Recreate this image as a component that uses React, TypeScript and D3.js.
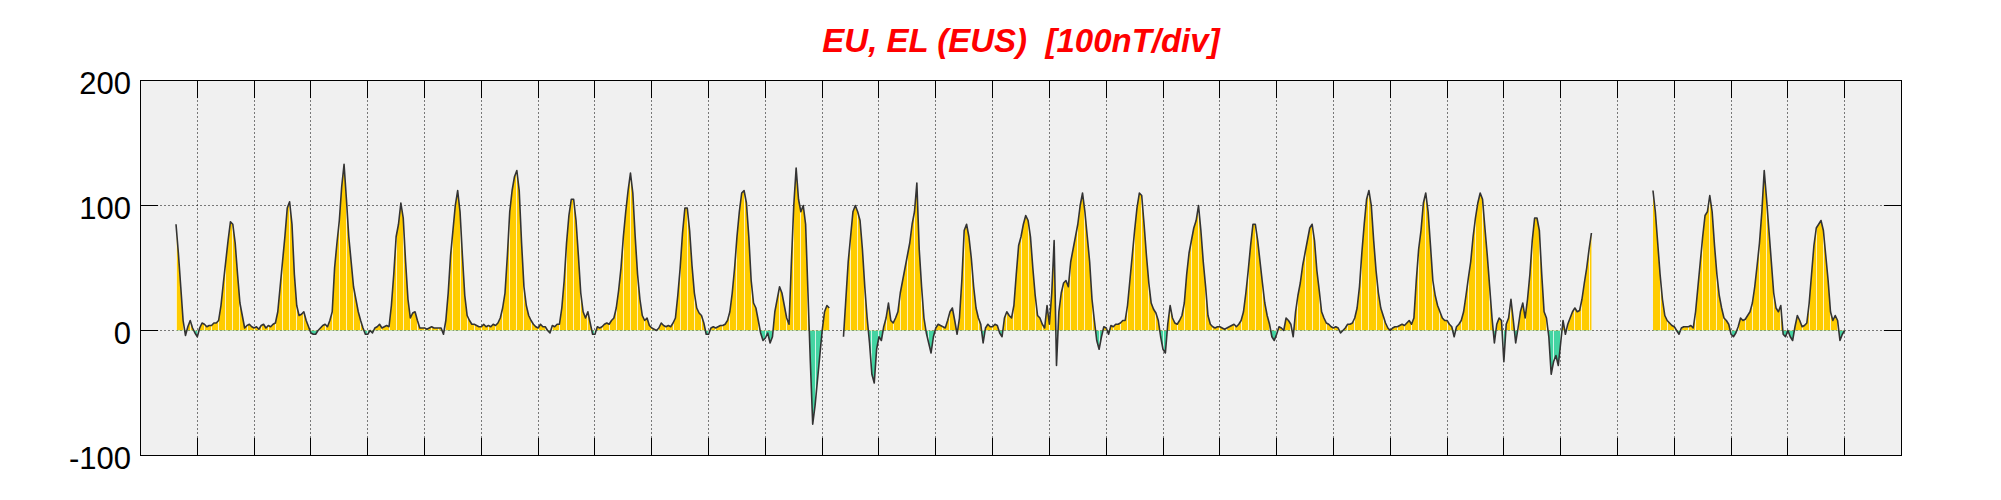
import React, { useEffect, useRef } from 'react';
import * as d3 from 'd3';

type V = number | null;

// hourly EU (above 0) / EL (below 0) trace in nT, one row per day, null = no data
const day01: V[] = [null, null, null, null, null, null, null, null, null, null, null, null, null, null, null, 85, 62, 35, 8, -4, 3, 8, 2, -2];
const day02: V[] = [-5, 2, 6, 5, 3, 4, 4, 6, 6, 8, 20, 38, 55, 72, 87, 85, 70, 45, 22, 12, 2, 4, 5, 3];
const day03: V[] = [2, 3, 1, 4, 5, 2, 4, 3, 5, 6, 15, 35, 55, 75, 98, 103, 85, 45, 20, 12, 13, 15, 8, 3];
const day04: V[] = [-2, -3, -3, 0, 2, 4, 5, 3, 8, 15, 50, 70, 88, 115, 133, 105, 75, 55, 35, 25, 15, 8, 2, -3];
const day05: V[] = [-3, 0, -2, 2, 3, 5, 2, 3, 4, 3, 20, 45, 75, 85, 102, 90, 55, 25, 10, 14, 15, 8, 2, 2];
const day06: V[] = [2, 1, 2, 3, 2, 2, 2, 2, -3, 8, 30, 60, 80, 100, 112, 95, 60, 28, 12, 8, 5, 5, 4, 3];
const day07: V[] = [3, 5, 3, 4, 3, 5, 4, 6, 10, 18, 30, 60, 95, 112, 123, 128, 112, 70, 35, 20, 12, 8, 5, 3];
const day08: V[] = [2, 5, 3, 3, 0, -2, 4, 3, 5, 5, 18, 40, 70, 92, 105, 105, 88, 60, 30, 15, 10, 15, 6, -3];
const day09: V[] = [-3, 3, 2, 3, 5, 6, 5, 8, 10, 18, 32, 50, 75, 95, 112, 126, 110, 75, 45, 25, 12, 8, 10, 4];
const day10: V[] = [2, 1, 0, 2, 6, 4, 3, 4, 3, 6, 10, 28, 50, 78, 98, 98, 80, 52, 30, 18, 14, 12, 6, -3];
const day11: V[] = [-3, 2, 3, 2, 3, 4, 4, 5, 8, 15, 30, 50, 75, 95, 110, 112, 102, 75, 40, 22, 18, 8, -2, -8];
const day12: V[] = [-6, -2, -10, -5, 15, 25, 35, 30, 20, 10, 5, 55, 100, 130, 105, 95, 100, 85, 30, -25, -75, -60, -40, -20];
const day13: V[] = [0, 15, 20, 18, null, null, null, null, null, -5, 25, 55, 75, 95, 100, 95, 88, 65, 35, 10, -10, -35, -42, -15];
const day14: V[] = [-5, -8, 3, 10, 22, 8, 6, 10, 15, 30, 40, 50, 60, 70, 85, 95, 118, 65, 35, 10, -2, -10, -18, -5];
const day15: V[] = [2, 5, 4, 3, 2, 8, 15, 18, 8, -3, 10, 40, 80, 85, 75, 58, 35, 18, 10, 5, -10, 2, 5, 3];
const day16: V[] = [3, 5, 4, -2, -5, 10, 15, 12, 10, 20, 45, 68, 75, 85, 92, 88, 75, 50, 28, 12, 10, 5, 2, 20];
const day17: V[] = [5, 30, 72, -28, 15, 30, 38, 40, 35, 55, 65, 75, 85, 100, 110, 95, 75, 55, 25, 8, -8, -15, -5, 3];
const day18: V[] = [2, -3, 4, 3, 5, 5, 6, 8, 8, 20, 40, 60, 80, 98, 110, 108, 85, 60, 38, 22, 17, 14, 8, -5];
const day19: V[] = [-15, -18, 5, 20, 10, 6, 5, 8, 12, 22, 45, 62, 72, 82, 88, 100, 80, 55, 35, 12, 5, 3, 2, 3];
const day20: V[] = [3, 2, 1, 2, 3, 4, 5, 3, 5, 8, 15, 30, 48, 68, 85, 85, 72, 55, 38, 22, 12, 5, -5, -8];
const day21: V[] = [-3, 3, 2, 0, 10, 8, 5, -5, 15, 28, 38, 52, 62, 72, 82, 85, 72, 48, 32, 15, 10, 6, 5, 3];
const day22: V[] = [2, 3, 2, -2, 0, 2, 5, 5, 6, 10, 18, 35, 62, 85, 105, 112, 100, 72, 48, 30, 18, 12, 6, 2];
const day23: V[] = [0, 2, 3, 3, 4, 5, 4, 6, 8, 5, 10, 40, 65, 80, 102, 110, 95, 68, 40, 28, 20, 15, 10, 8];
const day24: V[] = [8, 5, 3, -5, 3, 5, 8, 15, 28, 42, 55, 75, 90, 102, 110, 105, 82, 60, 35, 10, -10, 5, 10, 8];
const day25: V[] = [-25, 5, 10, 25, 8, -10, 2, 15, 22, 10, 25, 45, 72, 90, 90, 80, 45, 15, 10, -5, -35, -25, -20, -28];
const day26: V[] = [-10, 8, -3, 5, 10, 15, 18, 15, 16, 25, 38, 50, 65, 78, null, null, null, null, null, null, null, null, null, null];
const day27: V[] = [null, null, null, null, null, null, null, null, null, null, null, null, null, null, null, 112, 95, 70, 45, 25, 12, 8, 6, 4];
const day28: V[] = [3, 0, -3, 2, 3, 3, 3, 4, 2, 15, 35, 55, 75, 92, 95, 108, 95, 68, 45, 28, 18, 10, 8, 5];
const day29: V[] = [-3, -5, -2, 3, 10, 8, 9, 12, 15, 22, 35, 52, 70, 95, 128, 105, 80, 55, 30, 18, 15, 20, -3, -5];
const day30: V[] = [0, -5, -8, 3, 12, 8, 3, 4, 6, 22, 45, 68, 82, 85, 88, 80, 60, 40, 15, 8, 12, 8, -8, -3];
const day31: V[] = [0, null, null, null, null, null, null, null, null, null, null, null, null, null, null, null, null, null, null, null, null, null, null, null];

const days = [
  day01, day02, day03, day04, day05, day06, day07, day08, day09, day10, day11,
  day12, day13, day14, day15, day16, day17, day18, day19, day20, day21, day22,
  day23, day24, day25, day26, day27, day28, day29, day30, day31,
];

const yTicks = [-100, 0, 100, 200];
const dayTicks = d3.range(1, 31);
const title = 'EU, EL (EUS)  [100nT/div]';

const W = 2001;
const H = 500;

const App = () => {
  const svgRef = useRef<SVGSVGElement>(null);

  useEffect(() => {
    const svg = d3.select(svgRef.current);
    svg.selectAll('*').remove();

    const left = 140.5, right = 1901.5, top = 80.5, bottom = 455.5;
    const tickLen = 17.6;
    const x = d3.scaleLinear().domain([0, days.length]).range([left, right]);
    const y = d3.scaleLinear().domain([-100, 200]).range([bottom, top]);
    const snap = (p: number) => Math.round(p - 0.5) + 0.5;

    const points = days.flatMap((row, d) => row.map((v, h) => ({ t: d + h / 24, v })));

    svg.append('rect').attr('width', W).attr('height', H).attr('fill', '#fff');
    svg.append('rect')
      .attr('x', left).attr('y', top)
      .attr('width', right - left).attr('height', bottom - top)
      .attr('fill', '#f0f0f0');

    // dotted grid
    const grid = svg.append('g').attr('stroke', '#000').attr('stroke-width', 1).attr('stroke-dasharray', '1,3');
    dayTicks.forEach(d => {
      grid.append('line').attr('x1', snap(x(d))).attr('x2', snap(x(d))).attr('y1', top).attr('y2', bottom);
    });
    [0, 100].forEach(v => {
      grid.append('line').attr('x1', left).attr('x2', right).attr('y1', snap(y(v))).attr('y2', snap(y(v)));
    });

    const area = d3.area<{ t: number; v: V }>()
      .defined(p => p.v !== null)
      .x(p => x(p.t))
      .y0(y(0))
      .y1(p => y(p.v as number));

    svg.append('defs').append('clipPath').attr('id', 'fillClip')
      .append('path').attr('d', area(points));

    const fills = svg.append('g').attr('clip-path', 'url(#fillClip)');
    fills.append('rect')
      .attr('x', left).attr('y', top)
      .attr('width', right - left).attr('height', y(0) - top)
      .attr('fill', '#ffcc00');
    fills.append('rect')
      .attr('x', left).attr('y', y(0))
      .attr('width', right - left).attr('height', bottom - y(0))
      .attr('fill', '#44d4a2');
    fills.selectAll('.stripe')
      .data(d3.range(0, days.length * 24, 3))
      .enter()
      .append('line')
      .attr('x1', h => snap(x(h / 24))).attr('x2', h => snap(x(h / 24)))
      .attr('y1', top).attr('y2', bottom)
      .attr('stroke', '#fff').attr('stroke-width', 1).attr('opacity', 0.75);

    const line = d3.line<{ t: number; v: V }>()
      .defined(p => p.v !== null)
      .x(p => x(p.t))
      .y(p => y(p.v as number));

    svg.append('path')
      .attr('d', line(points))
      .attr('fill', 'none')
      .attr('stroke', '#333')
      .attr('stroke-width', 1.6)
      .attr('stroke-linejoin', 'round');

    // ticks on all four sides
    const ticks = svg.append('g').attr('stroke', '#000').attr('stroke-width', 1);
    dayTicks.forEach(d => {
      const px = snap(x(d));
      ticks.append('line').attr('x1', px).attr('x2', px).attr('y1', top).attr('y2', top + tickLen);
      ticks.append('line').attr('x1', px).attr('x2', px).attr('y1', bottom - tickLen).attr('y2', bottom);
    });
    yTicks.forEach(v => {
      const py = snap(y(v));
      ticks.append('line').attr('x1', left).attr('x2', left + tickLen).attr('y1', py).attr('y2', py);
      ticks.append('line').attr('x1', right - tickLen).attr('x2', right).attr('y1', py).attr('y2', py);
    });

    svg.append('rect')
      .attr('x', left).attr('y', top)
      .attr('width', right - left).attr('height', bottom - top)
      .attr('fill', 'none').attr('stroke', '#000').attr('stroke-width', 1);

    svg.selectAll('.ylabel')
      .data(yTicks)
      .enter()
      .append('text')
      .attr('x', 131)
      .attr('y', v => y(v) + 13)
      .attr('text-anchor', 'end')
      .attr('font-family', "'Liberation Sans', Arial, sans-serif")
      .attr('font-size', 31)
      .attr('fill', '#000')
      .text(v => String(v));

    svg.append('text')
      .attr('x', (left + right) / 2)
      .attr('y', 52)
      .attr('text-anchor', 'middle')
      .attr('font-family', "'Liberation Sans', Arial, sans-serif")
      .attr('font-size', 33)
      .attr('font-weight', 'bold')
      .attr('font-style', 'italic')
      .attr('fill', '#f00')
      .style('white-space', 'pre')
      .text(title);
  }, []);

  return (
    <svg
      ref={svgRef}
      width={W}
      height={H}
      style={{ position: 'absolute', left: 0, top: 0, display: 'block' }}
    />
  );
};

export default App;
